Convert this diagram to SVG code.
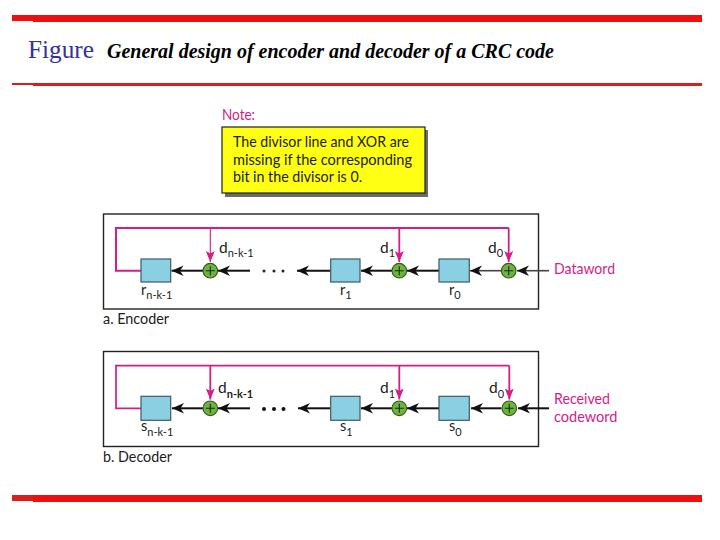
<svg xmlns="http://www.w3.org/2000/svg" width="720" height="540" viewBox="0 0 720 540">
<style>
.rule{fill:#f00f0f}
.frame{fill:#fff;stroke:#222;stroke-width:1.4}
.reg{fill:#8acfe2;stroke:#3c5a66;stroke-width:1.2}
.xor{fill:#6fb23c;stroke:#2f5a1e;stroke-width:1.1}
.plus{stroke:#10300a;stroke-width:1.1;fill:none}
.fb{fill:none;stroke:#d41d85;stroke-width:2;stroke-linejoin:miter}
.tap{fill:none;stroke:#d41d85;stroke-width:1.8;marker-end:url(#mag)}
.flow{fill:none;stroke:#111;stroke-width:2;marker-end:url(#blk)}
text{font-family:Lato,"Open Sans","Liberation Sans",sans-serif;font-size:15px;fill:#1c1c1c}
.lab{font-size:15.5px}
.low{font-size:14.5px}
.pink{fill:#d41d85}
.sub{font-size:11px}
</style>
<defs>
<marker id="blk" markerUnits="userSpaceOnUse" markerWidth="14" markerHeight="12" refX="12" refY="6" orient="auto"><path d="M12 6L0 .8L3.500 6L0 11.200Z" fill="#111"/></marker>
<marker id="mag" markerUnits="userSpaceOnUse" markerWidth="14" markerHeight="12" refX="11" refY="6" orient="auto"><path d="M11 6L0 1.500L2.500 6L0 10.500Z" fill="#d41d85"/></marker>
</defs>

<g id="rules">
<rect class="rule" x="12" y="15" width="21" height="6"/><rect class="rule" x="33" y="15" width="669" height="7"/>
<rect x="12" y="83" width="21" height="2" fill="#d81e1e"/><rect x="33" y="83" width="669" height="3" fill="#d81e1e"/>
<rect x="12" y="495" width="21" height="6" fill="#d81e1e"/><rect class="rule" x="33" y="495" width="669" height="7"/>
</g>
<g id="title">
<text x="28" y="58" textLength="66" lengthAdjust="spacingAndGlyphs" style="font-family:'Liberation Serif',serif;font-size:26px;fill:#333399">Figure</text>
<text x="107" y="58" textLength="447" lengthAdjust="spacingAndGlyphs" style="font-family:'Liberation Serif',serif;font-size:20.500px;font-weight:bold;font-style:italic;fill:#000">General design of encoder and decoder of a CRC code</text>
</g>
<g id="note">
<text class="pink" x="222" y="120" textLength="33" lengthAdjust="spacingAndGlyphs">Note:</text>
<rect x="225" y="130" width="203" height="67" fill="#6b6b6b"/>
<rect x="222" y="127" width="203" height="66" fill="#ffff14" stroke="#222" stroke-width="1.2"/>
<text x="233" y="147" textLength="176" lengthAdjust="spacingAndGlyphs">The divisor line and XOR are</text>
<text x="233" y="165" textLength="179" lengthAdjust="spacingAndGlyphs">missing if the corresponding</text>
<text x="233" y="182" textLength="129" lengthAdjust="spacingAndGlyphs">bit in the divisor is 0.</text>
</g>

<g id="encoder-frame"><rect class="frame" x="103.500" y="214" width="435" height="95"/></g>
<g id="decoder-frame"><rect class="frame" x="103.500" y="351.500" width="435" height="95"/></g>

<g id="connectors">
<path class="fb" d="M141 270.700H116V228H508.700"/>
<path class="tap" d="M210.300 228V262" style="stroke-width:1.1"/>
<path class="tap" d="M399.300 228V262"/>
<path class="tap" d="M508.700 228V262"/>
<path class="flow" d="M203 270.700H171.500"/>
<path class="flow" d="M250 270.700H218"/>
<path class="flow" d="M330 270.700H297"/>
<path class="flow" d="M392 270.700H361"/>
<path class="flow" d="M439 270.700H407"/>
<path class="flow" d="M501 270.700H470" style="stroke:#444;stroke-width:1.6"/>
<path class="flow" d="M549 270.700H517" style="stroke:#444;stroke-width:1.6"/>

<path class="fb" d="M141 408.300H116V365.700H509.300" style="stroke-width:1.7"/>
<path class="tap" d="M210.300 365.700V399.500"/>
<path class="tap" d="M399.300 365.700V399.500"/>
<path class="tap" d="M509.300 365.700V399.500"/>
<path class="flow" d="M203 408.300H172"/>
<path class="flow" d="M250 408.300H218"/>
<path class="flow" d="M330 408.300H298"/>
<path class="flow" d="M392 408.300H361"/>
<path class="flow" d="M439 408.300H407"/>
<path class="flow" d="M501.500 408.300H471"/>
<path class="flow" d="M549 408.300H518"/>
</g>

<g id="enc-dots" fill="#222"><circle cx="264" cy="271" r="1.500"/><circle cx="274" cy="271" r="1.500"/><circle cx="283" cy="271" r="1.500"/></g>
<g id="dec-dots" fill="#111"><circle cx="264" cy="409" r="2"/><circle cx="274" cy="409" r="2"/><circle cx="283.500" cy="409" r="2"/></g>

<g id="r-n-k-1"><rect class="reg" x="141" y="259" width="29.700" height="23"/><text class="low" x="141" y="295">r<tspan class="sub" dy="4">n-k-1</tspan></text></g>
<g id="r-1"><rect class="reg" x="330.700" y="259" width="29.300" height="23"/><text class="low" x="340" y="295">r<tspan class="sub" dy="4">1</tspan></text></g>
<g id="r-0"><rect class="reg" x="439" y="259" width="30.300" height="23"/><text class="low" x="449" y="295">r<tspan class="sub" dy="4">0</tspan></text></g>
<g id="xor-enc-n"><circle class="xor" cx="210.300" cy="270.700" r="7.300"/><path class="plus" d="M205.800 270.700h9M210.300 266.200v9"/><text class="lab" x="219" y="252.700">d<tspan class="sub" dy="4">n-k-1</tspan></text></g>
<g id="xor-enc-1"><circle class="xor" cx="399.300" cy="270.700" r="7.300"/><path class="plus" d="M394.800 270.700h9M399.300 266.200v9"/><text class="lab" x="380" y="252.700">d<tspan class="sub" dy="4">1</tspan></text></g>
<g id="xor-enc-0"><circle class="xor" cx="508.700" cy="270.700" r="7.300"/><path class="plus" d="M504.200 270.700h9M508.700 266.200v9"/><text class="lab" x="488" y="252.700">d<tspan class="sub" dy="4">0</tspan></text></g>
<g id="dataword"><text class="pink" x="554" y="274" textLength="61" lengthAdjust="spacingAndGlyphs">Dataword</text></g>
<g id="enc-label"><text x="103" y="324" textLength="66" lengthAdjust="spacingAndGlyphs">a. Encoder</text></g>

<g id="s-n-k-1"><rect class="reg" x="141" y="396.300" width="29.700" height="24"/><text class="low" x="141" y="431">s<tspan class="sub" dy="4.500">n-k-1</tspan></text></g>
<g id="s-1"><rect class="reg" x="330.700" y="396.300" width="29.300" height="24"/><text class="low" x="340" y="431">s<tspan class="sub" dy="4.500">1</tspan></text></g>
<g id="s-0"><rect class="reg" x="439" y="396.300" width="30.300" height="24"/><text class="low" x="449" y="431">s<tspan class="sub" dy="4.500">0</tspan></text></g>
<g id="xor-dec-n"><circle class="xor" cx="210.300" cy="408.300" r="7.300"/><path class="plus" d="M205.800 408.300h9M210.300 403.800v9"/><text class="lab" x="218" y="393.300">d<tspan class="sub" dy="4.500" font-weight="bold">n-k-1</tspan></text></g>
<g id="xor-dec-1"><circle class="xor" cx="399.300" cy="408.300" r="7.300"/><path class="plus" d="M394.800 408.300h9M399.300 403.800v9"/><text class="lab" x="380" y="393.300">d<tspan class="sub" dy="4.500">1</tspan></text></g>
<g id="xor-dec-0"><circle class="xor" cx="509.300" cy="408.300" r="7.300"/><path class="plus" d="M504.800 408.300h9M509.300 403.800v9"/><text class="lab" x="489" y="393.300">d<tspan class="sub" dy="4.500">0</tspan></text></g>
<g id="received"><text class="pink" x="554" y="404" textLength="56" lengthAdjust="spacingAndGlyphs">Received</text><text class="pink" x="554" y="421.700" textLength="63.500" lengthAdjust="spacingAndGlyphs">codeword</text></g>
<g id="dec-label"><text x="103" y="462" textLength="69" lengthAdjust="spacingAndGlyphs">b. Decoder</text></g>
</svg>
